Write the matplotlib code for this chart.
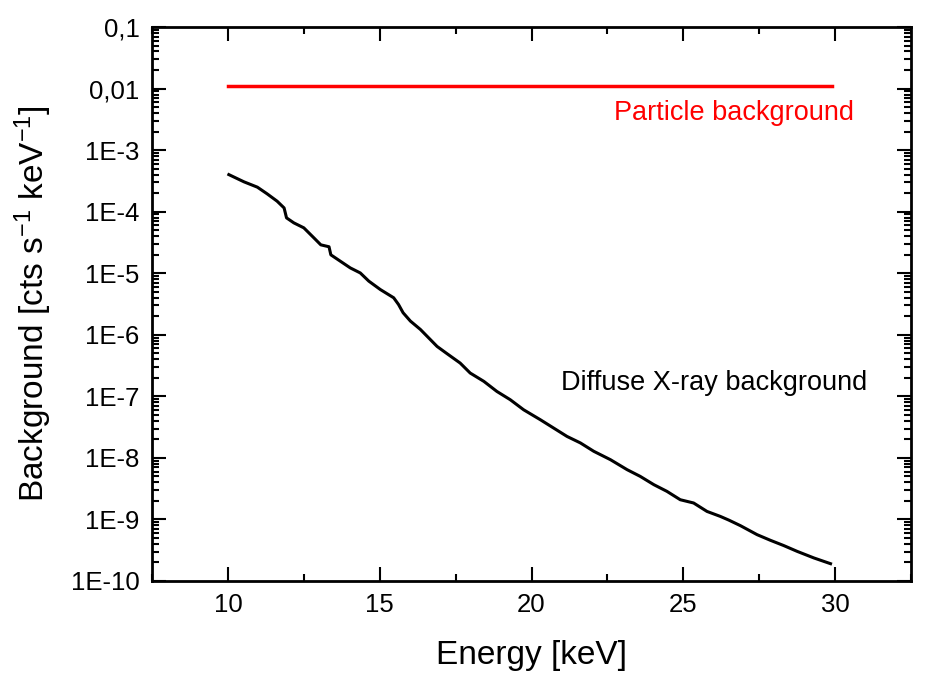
import matplotlib
matplotlib.use("Agg")
import matplotlib.pyplot as plt
from matplotlib.ticker import MultipleLocator, FixedLocator, FixedFormatter, LogLocator, NullFormatter

plt.rcParams['font.family'] = ['Liberation Sans', 'DejaVu Sans']
plt.rcParams['mathtext.fontset'] = 'custom'
plt.rcParams['mathtext.rm'] = 'Liberation Sans'
plt.rcParams['mathtext.it'] = 'Liberation Sans'
plt.rcParams['mathtext.default'] = 'regular'

# Diffuse X-ray background
energy_xrb = [10.03, 10.53, 10.97, 11.29, 11.62, 11.85, 11.93, 12.17, 12.50, 12.83,
              13.06, 13.33, 13.39, 13.70, 14.03, 14.36, 14.64, 15.02, 15.46, 15.62,
              15.77, 16.01, 16.34, 16.89, 17.22, 17.65, 17.98, 18.43, 18.86, 19.30,
              19.74, 20.29, 20.73, 21.17, 21.61, 22.05, 22.60, 23.15, 23.58, 24.03,
              24.46, 24.90, 25.34, 25.78, 26.22, 26.50, 26.88, 27.43, 27.87, 28.31,
              28.75, 29.30, 29.85]
bkg_xrb = [4.00e-4, 3.05e-4, 2.50e-4, 1.95e-4, 1.48e-4, 1.15e-4, 7.93e-5, 6.58e-5, 5.46e-5, 3.76e-5,
           2.89e-5, 2.69e-5, 1.99e-5, 1.57e-5, 1.22e-5, 1.01e-5, 7.44e-6, 5.43e-6, 3.99e-6, 3.10e-6,
           2.28e-6, 1.67e-6, 1.22e-6, 6.46e-7, 4.92e-7, 3.47e-7, 2.39e-7, 1.75e-7, 1.20e-7, 8.81e-8,
           6.05e-8, 4.17e-8, 3.05e-8, 2.23e-8, 1.75e-8, 1.28e-8, 9.35e-9, 6.43e-9, 5.01e-9, 3.67e-9,
           2.86e-9, 2.09e-9, 1.85e-9, 1.35e-9, 1.12e-9, 9.75e-10, 7.93e-10, 5.66e-10, 4.58e-10, 3.76e-10,
           3.03e-10, 2.37e-10, 1.91e-10]

# Particle background
energy_part = [10.0, 29.9]
bkg_part = [0.0112, 0.0112]

ytick_vals = [1e-10, 1e-9, 1e-8, 1e-7, 1e-6, 1e-5, 1e-4, 1e-3, 1e-2, 1e-1]
ytick_labels = ["1E-10", "1E-9", "1E-8", "1E-7", "1E-6", "1E-5", "1E-4", "1E-3", "0,01", "0,1"]

fig = plt.figure(figsize=(9.31, 6.8), dpi=100)
ax = fig.add_axes([0.1633, 0.1456, 0.8152, 0.8147])

ax.plot(energy_xrb, bkg_xrb, color='black', lw=2.2)
ax.plot(energy_part, bkg_part, color='#ff0000', lw=2.5)

ax.set_yscale('log')
ax.set_xlim(7.5, 32.5)
ax.set_ylim(1e-10, 0.1)

ax.xaxis.set_major_locator(MultipleLocator(5))
ax.xaxis.set_minor_locator(MultipleLocator(2.5))
ax.yaxis.set_major_locator(FixedLocator(ytick_vals))
ax.yaxis.set_major_formatter(FixedFormatter(ytick_labels))
ax.yaxis.set_minor_locator(LogLocator(base=10, subs=range(2, 10), numticks=20))
ax.yaxis.set_minor_formatter(NullFormatter())

ax.tick_params(which='both', direction='in', top=True, right=True, width=1.5, labelsize=18.5, colors='black')
ax.tick_params(which='major', length=10)
ax.tick_params(which='minor', length=5)
ax.tick_params(axis='x', which='major', pad=9)
ax.tick_params(axis='y', which='major', pad=9)
for s in ax.spines.values():
    s.set_linewidth(2.0)

ax.set_xlabel("Energy [keV]", fontsize=24, labelpad=16)
ax.set_ylabel("Background [cts s$^{-1}$ keV$^{-1}$]", fontsize=24, labelpad=12)

ax.text(22.72, 10**-2.40, "Particle background", color='#ff0000', fontsize=19.5, va='center', ha='left')
ax.text(20.97, 10**-6.78, "Diffuse X-ray background", color='black', fontsize=19.5, va='center', ha='left')

fig.savefig("out.png", dpi=100)
